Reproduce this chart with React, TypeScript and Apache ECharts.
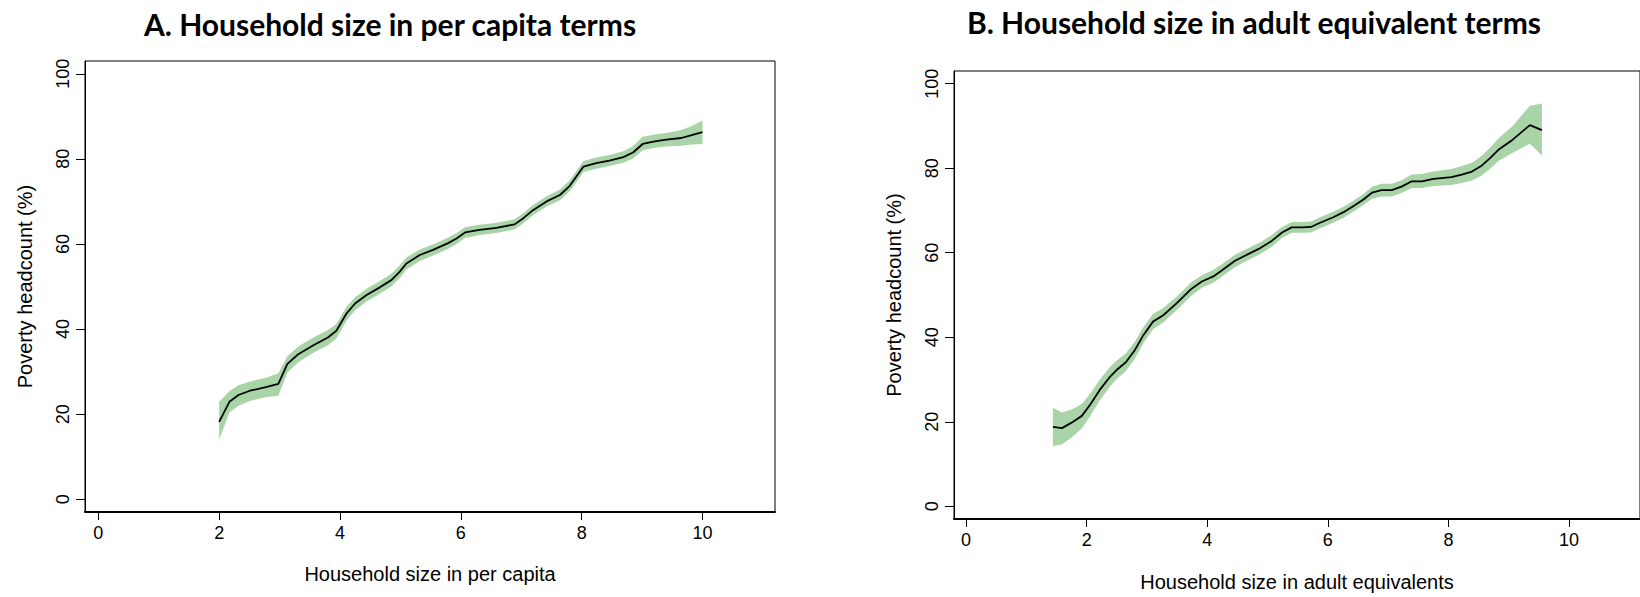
import React, { useEffect, useRef } from "react";
import * as echarts from "echarts";

// Panel A: household size in per capita terms
const xA = [2.0, 2.17, 2.32, 2.51, 2.79, 2.98, 3.13, 3.31, 3.56, 3.8, 3.94, 4.11, 4.25, 4.44, 4.66, 4.85, 4.99, 5.1, 5.32, 5.54, 5.79, 5.93, 6.07, 6.31, 6.59, 6.89, 7.03, 7.2, 7.42, 7.64, 7.8, 7.91, 8.03, 8.24, 8.46, 8.69, 8.85, 9.01, 9.21, 9.4, 9.65, 9.82, 10.0];
const yA = [18.2, 22.9, 24.5, 25.5, 26.4, 27.1, 31.8, 34.1, 36.2, 38.0, 39.6, 43.7, 46.0, 48.0, 49.8, 51.5, 53.5, 55.4, 57.4, 58.6, 60.2, 61.3, 62.7, 63.3, 63.8, 64.6, 66.0, 68.0, 70.0, 71.5, 73.6, 75.8, 78.2, 79.0, 79.6, 80.4, 81.5, 83.5, 84.1, 84.5, 84.9, 85.6, 86.3];
const loA = [13.9, 20.4, 22.0, 23.1, 24.0, 24.3, 29.8, 32.2, 34.4, 36.2, 37.8, 42.0, 44.4, 46.5, 48.3, 50.0, 52.0, 54.0, 56.0, 57.3, 58.9, 60.0, 61.4, 62.1, 62.6, 63.4, 64.8, 66.8, 68.8, 70.3, 72.3, 74.5, 76.9, 77.7, 78.3, 79.1, 80.1, 82.0, 82.6, 82.9, 83.1, 83.4, 83.5];
const hiA = [22.9, 25.4, 26.8, 27.7, 28.6, 29.6, 33.6, 35.9, 38.0, 39.8, 41.2, 45.3, 47.5, 49.5, 51.3, 53.0, 55.0, 56.8, 58.7, 59.9, 61.5, 62.6, 63.9, 64.5, 65.0, 65.8, 67.2, 69.2, 71.2, 72.8, 74.9, 77.1, 79.5, 80.3, 80.9, 81.8, 83.0, 85.2, 85.7, 86.1, 86.8, 87.7, 89.0];

// Panel B: household size in adult equivalent terms
const xB = [1.44, 1.59, 1.75, 1.92, 2.06, 2.22, 2.39, 2.5, 2.65, 2.8, 2.94, 3.1, 3.27, 3.49, 3.74, 3.91, 4.1, 4.24, 4.46, 4.71, 4.88, 5.07, 5.24, 5.4, 5.57, 5.72, 5.87, 6.09, 6.26, 6.42, 6.59, 6.73, 6.89, 7.06, 7.23, 7.39, 7.56, 7.75, 8.05, 8.22, 8.39, 8.55, 8.69, 8.84, 9.06, 9.35, 9.55];
const yB = [18.8, 18.5, 19.8, 21.4, 24.1, 27.6, 30.7, 32.3, 34.1, 37.0, 40.5, 43.7, 45.2, 48.0, 51.5, 53.2, 54.4, 55.8, 58.1, 59.9, 61.1, 62.8, 64.8, 66.0, 66.0, 66.1, 67.1, 68.4, 69.6, 71.0, 72.6, 74.2, 74.8, 74.8, 75.7, 76.9, 76.9, 77.5, 77.9, 78.5, 79.2, 80.6, 82.4, 84.5, 86.7, 90.2, 89.0];
const loB = [14.3, 14.6, 16.3, 18.4, 21.4, 25.1, 28.4, 30.1, 32.0, 35.0, 38.6, 41.9, 43.5, 46.4, 49.9, 51.7, 52.9, 54.3, 56.6, 58.5, 59.7, 61.4, 63.5, 64.7, 64.7, 64.8, 65.8, 67.1, 68.3, 69.7, 71.3, 72.8, 73.3, 73.3, 74.2, 75.3, 75.3, 75.8, 76.0, 76.5, 77.1, 78.3, 79.9, 81.8, 83.6, 85.8, 83.0];
const hiB = [23.3, 22.2, 22.9, 24.2, 26.7, 30.0, 33.0, 34.5, 36.2, 39.0, 42.4, 45.5, 46.9, 49.6, 53.1, 54.7, 55.9, 57.3, 59.5, 61.3, 62.5, 64.2, 66.1, 67.3, 67.3, 67.4, 68.4, 69.7, 70.9, 72.3, 73.9, 75.6, 76.3, 76.3, 77.2, 78.5, 78.6, 79.2, 79.8, 80.5, 81.3, 82.9, 84.9, 87.2, 89.9, 94.8, 95.3];

const xTicks = [0, 2, 4, 6, 8, 10];
const yTicks = [0, 20, 40, 60, 80, 100];

const titleA = "A. Household size in per capita terms";
const titleB = "B. Household size in adult equivalent terms";
const xNameA = "Household size in per capita";
const xNameB = "Household size in adult equivalents";
const yName = "Poverty headcount (%)";

const AX_FONT = "'Liberation Sans', Arial, sans-serif";
const BAND = "#a8d4a8";

function makeX(grid: number, min: number, max: number, name: string, nameGap: number) {
  return {
    type: "value",
    gridIndex: grid,
    min,
    max,
    name,
    nameLocation: "middle",
    nameGap,
    nameTextStyle: { fontFamily: AX_FONT, fontSize: 20, color: "#000" },
    axisLine: { show: true, onZero: false, lineStyle: { color: "#000", width: 2 } },
    axisTick: { show: true, inside: false, length: 8, customValues: xTicks, lineStyle: { color: "#000", width: 1 } },
    axisLabel: { show: true, margin: 12, customValues: xTicks, fontFamily: AX_FONT, fontSize: 18, color: "#000" },
    splitLine: { show: false },
  };
}

function makeY(grid: number) {
  return {
    type: "value",
    gridIndex: grid,
    min: -3,
    max: 103,
    name: yName,
    nameLocation: "middle",
    nameGap: 50,
    nameTextStyle: { fontFamily: AX_FONT, fontSize: 20, color: "#000" },
    axisLine: { show: true, onZero: false, lineStyle: { color: "#000", width: 1 } },
    axisTick: { show: true, inside: false, length: 9, customValues: yTicks, lineStyle: { color: "#000", width: 1 } },
    axisLabel: { show: true, rotate: 90, margin: 13, customValues: yTicks, fontFamily: AX_FONT, fontSize: 18, color: "#000" },
    splitLine: { show: false },
  };
}

// Confidence band drawn as one polygon, positioned through the axes' scales (api.coord)
function bandSeries(idx: number, xs: number[], lo: number[], hi: number[]) {
  return {
    type: "custom",
    xAxisIndex: idx,
    yAxisIndex: idx,
    silent: true,
    z: 1,
    data: [[xs[0], lo[0]]],
    renderItem: (_params: any, api: any) => {
      const pts: number[][] = [];
      for (let i = 0; i < xs.length; i++) pts.push(api.coord([xs[i], hi[i]]));
      for (let i = xs.length - 1; i >= 0; i--) pts.push(api.coord([xs[i], lo[i]]));
      return { type: "polygon", shape: { points: pts }, style: { fill: BAND, stroke: "none" } };
    },
  };
}

function lineSeries(idx: number, xs: number[], ys: number[]) {
  return {
    type: "line",
    xAxisIndex: idx,
    yAxisIndex: idx,
    data: xs.map((x, i) => [x, ys[i]]),
    symbol: "none",
    silent: true,
    lineStyle: { color: "#000", width: 1.8 },
    z: 3,
  };
}

export default function App() {
  const ref = useRef<HTMLDivElement>(null);
  useEffect(() => {
    if (!ref.current) return;
    const chart = echarts.init(ref.current, null, { renderer: "svg" });
    const titleStyle = { fontFamily: "Lato, 'Open Sans', sans-serif", fontWeight: "bold", fontSize: 30, fill: "#000", align: "center", verticalAlign: "middle", textAlign: "center", textVerticalAlign: "middle" };
    chart.setOption({
      animation: false,
      backgroundColor: "#fff",
      grid: [
        { left: 85, top: 61, width: 690, height: 451, show: true, borderColor: "#000", borderWidth: 1, backgroundColor: "transparent" },
        { left: 954, top: 71, width: 686, height: 451, show: true, borderColor: "#000", borderWidth: 1, backgroundColor: "transparent" },
      ],
      xAxis: [makeX(0, -0.22, 11.2, xNameA, 52), makeX(1, -0.2, 11.176, xNameB, 53)],
      yAxis: [makeY(0), makeY(1)],
      graphic: [
        { type: "text", x: 390, y: 24, style: { ...titleStyle, text: titleA } },
        { type: "text", x: 1254, y: 22, style: { ...titleStyle, text: titleB } },
      ],
      series: [
        bandSeries(0, xA, loA, hiA),
        lineSeries(0, xA, yA),
        bandSeries(1, xB, loB, hiB),
        lineSeries(1, xB, yB),
      ],
    });
    return () => chart.dispose();
  }, []);
  return <div ref={ref} style={{ position: "absolute", left: 0, top: 0, width: 1640, height: 597 }} />;
}
